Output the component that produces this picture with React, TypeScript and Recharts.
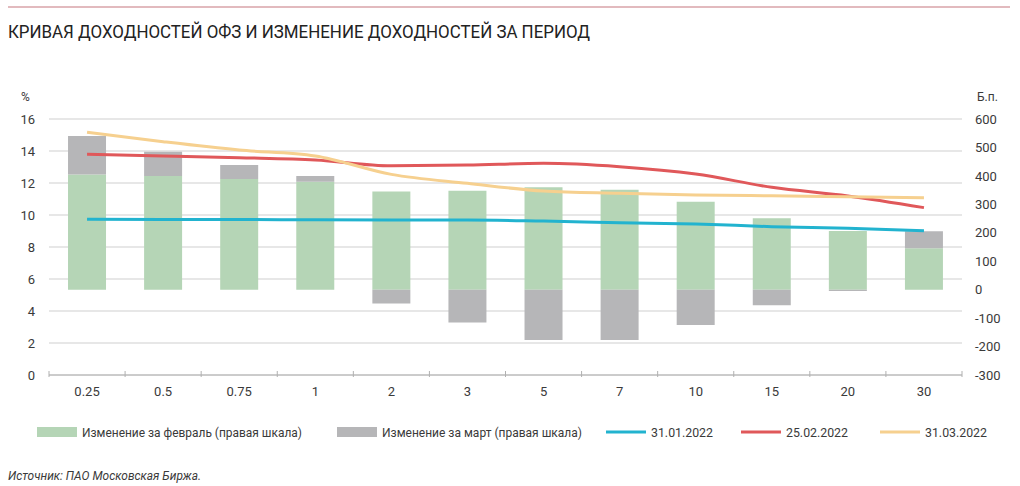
import React from 'react';
import { ComposedChart, Bar, Line, XAxis, YAxis, CartesianGrid } from 'recharts';

const categories = ['0.25', '0.5', '0.75', '1', '2', '3', '5', '7', '10', '15', '20', '30'];
const febChange = [405, 400, 389, 379, 345, 348, 360, 351, 309, 251, 206, 146];
const marChange = [135, 85, 49, 21, -49, -115, -177, -177, -124, -55, -5, 59];
const y310122 = [9.73, 9.72, 9.72, 9.7, 9.69, 9.69, 9.62, 9.52, 9.44, 9.27, 9.17, 9.02];
const y250222 = [13.79, 13.69, 13.58, 13.44, 13.08, 13.12, 13.23, 13.02, 12.56, 11.73, 11.19, 10.46];
const y310322 = [15.17, 14.58, 14.06, 13.69, 12.54, 11.98, 11.5, 11.36, 11.25, 11.2, 11.14, 11.08];
const leftTicks = [0, 2, 4, 6, 8, 10, 12, 14, 16];
const rightTicks = [-300, -200, -100, 0, 100, 200, 300, 400, 500, 600];

const data = categories.map((c, i) => ({
  cat: c,
  feb: febChange[i],
  mar: marChange[i],
  d1: y310122[i],
  d2: y250222[i],
  d3: y310322[i],
}));

const GREEN = '#b5d5b6';
const GRAY = '#b6b6b8';
const BLUE = '#22b3cf';
const RED = '#e0585a';
const YELLOW = '#f6d08f';
const TXT = '#3a3a3a';
const FONT = 'Roboto, "Liberation Sans", sans-serif';
const NARROW = '"Liberation Sans Narrow", Roboto, sans-serif';

const XTick = (props: any) => {
  const { x, y, payload, index, visibleTicksCount } = props;
  const off = payload && payload.offset ? payload.offset : 38;
  const last = index === visibleTicksCount - 1;
  return (
    <g>
      <line x1={x - off} x2={x - off} y1={y - 4} y2={y + 2} stroke="#b0b0b0" />
      {last && <line x1={x + off} x2={x + off} y1={y - 4} y2={y + 2} stroke="#b0b0b0" />}
      <text x={x} y={y + 21} textAnchor="middle" fontSize={13} fill={TXT} fontFamily={FONT}>
        {payload.value}
      </text>
    </g>
  );
};

const legendItems = [
  { type: 'rect', color: GREEN, label: 'Изменение за февраль (правая шкала)', x: 37, w: 220 },
  { type: 'rect', color: GRAY, label: 'Изменение за март (правая шкала)', x: 337, w: 200 },
  { type: 'line', color: BLUE, label: '31.01.2022', x: 606, w: 62 },
  { type: 'line', color: RED, label: '25.02.2022', x: 741, w: 62 },
  { type: 'line', color: YELLOW, label: '31.03.2022', x: 880, w: 62 },
];

const LegendBox = () => (
  <svg width={1020} height={24} style={{ position: 'absolute', left: 0, top: 421, display: 'block' }}>
    {legendItems.map((it) => (
      <g key={it.label}>
        {it.type === 'rect' ? (
          <rect x={it.x} y={6} width={40} height={10} fill={it.color} />
        ) : (
          <rect x={it.x} y={9.5} width={40} height={3} fill={it.color} />
        )}
        <text
          x={it.x + 45}
          y={16}
          fontSize={13}
          fill={TXT}
          fontFamily={NARROW}
          textLength={it.w}
          lengthAdjust="spacingAndGlyphs"
        >
          {it.label}
        </text>
      </g>
    ))}
  </svg>
);

export default function App() {
  return (
    <div style={{ position: 'absolute', left: 0, top: 0, width: 1020, height: 486, background: '#fff', fontFamily: FONT }}>
      <svg width={1020} height={60} style={{ position: 'absolute', left: 0, top: 0 }}>
        <line x1={8} x2={1010} y1={7} y2={7} stroke="#d9a3a8" strokeWidth={1.5} />
        <text
          x={8}
          y={38}
          fontSize={18}
          fill="#222"
          fontFamily={NARROW}
          textLength={582}
          lengthAdjust="spacingAndGlyphs"
        >
          КРИВАЯ ДОХОДНОСТЕЙ ОФЗ И ИЗМЕНЕНИЕ ДОХОДНОСТЕЙ ЗА ПЕРИОД
        </text>
      </svg>
      <div style={{ position: 'absolute', left: 21, top: 90, fontSize: 12, color: TXT }}>%</div>
      <div style={{ position: 'absolute', left: 977, top: 90, fontSize: 12, color: TXT }}>Б.п.</div>
      <div style={{ position: 'absolute', left: 0, top: 0 }}>
        <ComposedChart
          width={1020}
          height={486}
          data={data}
          stackOffset="sign"
          barCategoryGap="25%"
          margin={{ top: 119, right: 0, bottom: 81, left: 0 }}
        >
          <CartesianGrid yAxisId="left" vertical={false} stroke="#cfcfcf" />
          <XAxis
            dataKey="cat"
            tick={<XTick />}
            tickLine={false}
            tickSize={0}
            tickMargin={0}
            axisLine={{ stroke: '#b0b0b0' }}
            interval={0}
            height={30}
          />
          <YAxis
            yAxisId="left"
            orientation="left"
            width={49}
            domain={[0, 16]}
            ticks={leftTicks}
            axisLine={false}
            tickLine={false}
            tickSize={0}
            tickMargin={14}
            tick={{ fontSize: 13, fill: TXT, fontFamily: FONT }}
            interval={0}
          />
          <YAxis
            yAxisId="right"
            orientation="right"
            width={58}
            domain={[-300, 600]}
            ticks={rightTicks}
            axisLine={false}
            tickLine={false}
            tickSize={0}
            tickMargin={13}
            tick={{ fontSize: 13, fill: TXT, fontFamily: FONT, textAnchor: 'start' }}
            interval={0}
          />
          <Bar yAxisId="right" dataKey="feb" stackId="a" fill={GREEN} isAnimationActive={false} />
          <Bar yAxisId="right" dataKey="mar" stackId="a" fill={GRAY} isAnimationActive={false} />
          <Line yAxisId="left" type="monotone" dataKey="d1" stroke={BLUE} strokeWidth={3} dot={false} isAnimationActive={false} />
          <Line yAxisId="left" type="monotone" dataKey="d2" stroke={RED} strokeWidth={3} dot={false} isAnimationActive={false} />
          <Line yAxisId="left" type="monotone" dataKey="d3" stroke={YELLOW} strokeWidth={3} dot={false} isAnimationActive={false} />
        </ComposedChart>
      </div>
      <LegendBox />
      <svg width={400} height={20} style={{ position: 'absolute', left: 0, top: 466 }}>
        <text
          x={8}
          y={14}
          fontSize={12}
          fontStyle="italic"
          fill={TXT}
          fontFamily={NARROW}
          textLength={193}
          lengthAdjust="spacingAndGlyphs"
        >
          Источник: ПАО Московская Биржа.
        </text>
      </svg>
    </div>
  );
}
